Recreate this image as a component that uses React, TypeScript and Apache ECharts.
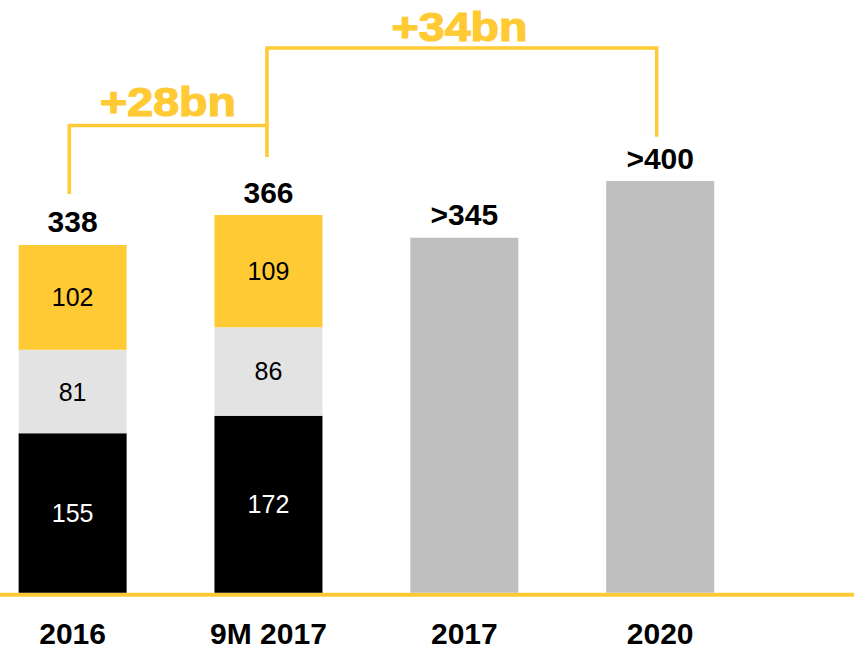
import React, { useEffect, useRef } from "react";
import * as echarts from "echarts";

const categories = ["2016", "9M 2017", "2017", "2020"];
const blackValues = [155, 172, null, null];
const lightValues = [81, 86, null, null];
const yellowValues = [102, 109, null, null];
const grayValues = [null, null, 345, 400];
const totalValues = [338, 366, 345, 400];
const totalLabels = ["338", "366", ">345", ">400"];
const growthLabels = ["+28bn", "+34bn"];

const YELLOW = "#FFCA33";
const LIGHT = "#E3E3E3";
const GRAY = "#BFBFBF";
const FONT = "'Liberation Sans', Arial, Helvetica, sans-serif";

const toData = (arr: (number | null)[]) => arr.map((v) => (v === null ? "-" : v));

export default function App() {
  const ref = useRef<HTMLDivElement>(null);
  useEffect(() => {
    if (!ref.current) return;
    const chart = echarts.init(ref.current, null, { renderer: "svg" });
    const inner = (color: string) => ({
      show: true,
      position: "inside",
      color,
      fontSize: 25,
      fontFamily: FONT,
    });
    chart.setOption({
      animation: false,
      grid: {
        left: -25.3,
        right: 95.9,
        top: 78.2,
        bottom: 56.3,
        containLabel: false,
        outerBoundsMode: "none",
      },
      xAxis: {
        type: "category",
        data: categories,
        axisLine: { show: false },
        axisTick: { show: false },
        axisLabel: {
          color: "#000",
          fontSize: 30,
          fontWeight: "bold",
          fontFamily: FONT,
          margin: 26,
        },
      },
      yAxis: { type: "value", min: 0, max: 500, show: false, splitLine: { show: false } },
      series: [
        {
          type: "bar",
          stack: "a",
          barWidth: 108,
          data: toData(blackValues),
          itemStyle: { color: "#000" },
          label: inner("#fff"),
        },
        {
          type: "bar",
          stack: "a",
          data: toData(lightValues),
          itemStyle: { color: LIGHT },
          label: inner("#000"),
        },
        {
          type: "bar",
          stack: "a",
          data: toData(yellowValues),
          itemStyle: { color: YELLOW },
          label: inner("#000"),
        },
        {
          type: "bar",
          stack: "a",
          data: toData(grayValues),
          itemStyle: { color: GRAY },
        },
        {
          type: "bar",
          stack: "a",
          data: totalValues.map(() => 0),
          itemStyle: { color: "rgba(0,0,0,0)" },
          label: {
            show: true,
            position: "top",
            distance: 8,
            color: "#000",
            fontSize: 30,
            fontWeight: "bold",
            fontFamily: FONT,
            formatter: (p: any) => totalLabels[p.dataIndex],
          },
        },
      ],
    });

    const px = (i: number, v: number) => chart.convertToPixel({ gridIndex: 0 }, [i, v]) as number[];
    const [x0, top0] = px(0, totalValues[0]);
    const [x1, top1] = px(1, totalValues[1]);
    const [x3, top3] = px(3, totalValues[3]);
    const base = px(0, 0)[1];
    const lowLevel = top0 - 119.3;
    const highLevel = top0 - 197;
    const lineStyle = { stroke: YELLOW, lineWidth: 3.5, fill: null };
    const growthText = (text: string, x: number, y: number) => ({
      type: "text",
      x,
      y,
      scaleX: 1.165,
      style: {
        text,
        x: 0,
        y: 0,
        fill: YELLOW,
        stroke: YELLOW,
        lineWidth: 1.2,
        font: `bold 40px ${FONT}`,
        textAlign: "center",
        textVerticalAlign: "middle",
        verticalAlign: "middle",
      },
    });
    chart.setOption({
      graphic: [
        {
          type: "line",
          shape: { x1: 0, y1: base + 2, x2: 854, y2: base + 2 },
          style: { stroke: YELLOW, lineWidth: 4 },
        },
        {
          type: "polyline",
          shape: {
            points: [
              [x0 - 3.3, top0 - 51],
              [x0 - 3.3, lowLevel],
              [x1 - 1.5, lowLevel],
              [x1 - 1.5, top1 - 59],
            ],
          },
          style: lineStyle,
        },
        {
          type: "polyline",
          shape: {
            points: [
              [x1 - 1.5, lowLevel],
              [x1 - 1.5, highLevel],
              [x3 - 3.5, highLevel],
              [x3 - 3.5, top3 - 44.3],
            ],
          },
          style: lineStyle,
        },
        growthText(growthLabels[0], (x0 + x1) / 2 - 2.5, lowLevel - 23),
        growthText(growthLabels[1], (x1 + x3) / 2 - 4.8, highLevel - 20.8),
      ],
    });
    return () => chart.dispose();
  }, []);
  return (
    <div
      ref={ref}
      style={{ position: "absolute", left: 0, top: 0, width: 854, height: 649 }}
    />
  );
}
